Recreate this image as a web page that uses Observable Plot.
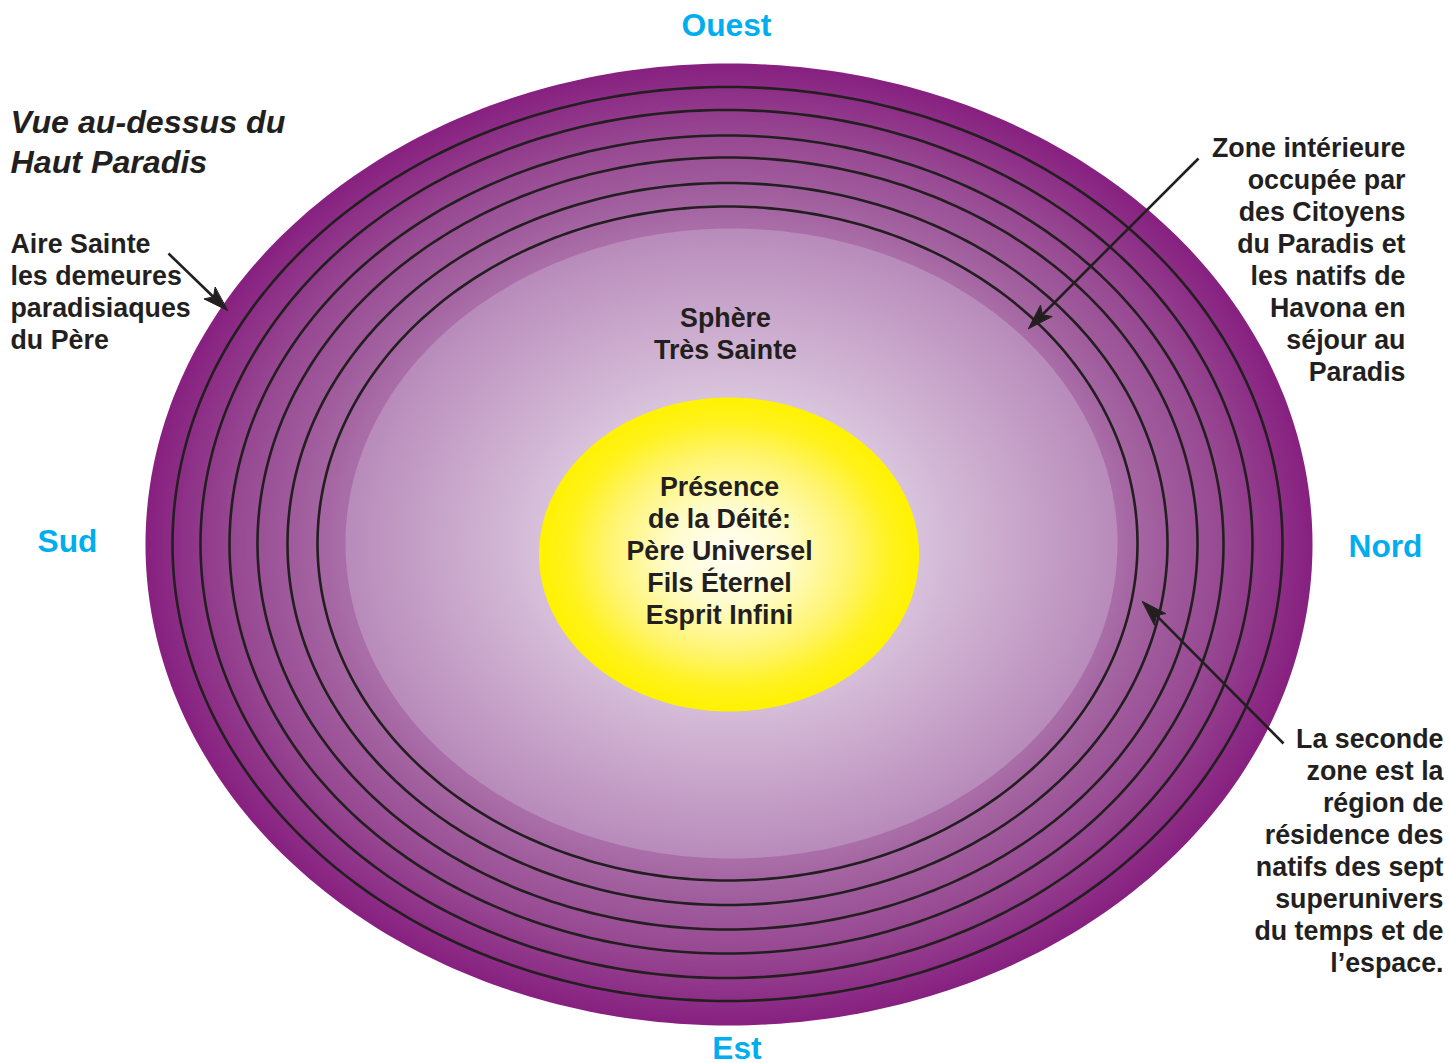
<!DOCTYPE html>
<html>
<head>
<meta charset="utf-8">
<script src="https://cdn.jsdelivr.net/npm/d3@7"></script>
<script src="https://cdn.jsdelivr.net/npm/@observablehq/plot@0.6"></script>
<style>
  html, body { margin: 0; padding: 0; background: #ffffff; overflow: hidden; }
  #chart svg { display: block; }
</style>
</head>
<body>
<div id="chart"></div>
<script>
// ---------- Data (in picture pixels) ----------
// Concentric boundary lines of the Paradise zones (innermost first)
const ringIds = [1, 2, 3, 4, 5, 6];
const ringRx  = [410, 440, 470, 497, 526, 555];
const ringRy  = [337, 361, 386, 409, 434, 457];
const ringCx  = [727, 727, 727, 726, 726, 727];
const ringCy  = [543, 543.5, 543, 544, 543.5, 543.5];

// Filled regions: outer Paradise disc, Sphère Très Sainte, Présence de la Déité
const regionIds = ["paradis", "sphere", "deite"];
const regionCx  = [728.5, 731, 728.5];
const regionCy  = [544, 543, 554];
const regionRx  = [583.5, 386, 190];
const regionRy  = [481, 315, 157];

// Cardinal directions
const directionLabels = ["Ouest", "Sud", "Nord", "Est"];

// Annotation texts
const titleText   = "Vue au-dessus du\nHaut Paradis";
const aireText    = "Aire Sainte\nles demeures\nparadisiaques\ndu Père";
const zoneText    = "Zone intérieure\noccupée par\ndes Citoyens\ndu Paradis et\nles natifs de\nHavona en\nséjour au\nParadis";
const secondeText = "La seconde\nzone est la\nrégion de\nrésidence des\nnatifs des sept\nsuperunivers\ndu temps et de\nl’espace.";
const sphereText  = "Sphère\nTrès Sainte";
const deiteText   = "Présence\nde la Déité:\nPère Universel\nFils Éternel\nEsprit Infini";

// ---------- Layout ----------
const W = 1449, H = 1063;
const ink = "#231f20", cyan = "#00aeef";
const font = "Liberation Sans, Arial, Helvetica, sans-serif";

const directionPos = [
  {x: 726, y: 25}, {x: 67, y: 541.5}, {x: 1385, y: 546}, {x: 736.5, y: 1048}
];
const directions = directionLabels.map((label, i) => ({label, ...directionPos[i]}));

// Arrow start / tip points
const arrows = [
  {id: "aire",    x1: 168,  y1: 253, x2: 227,  y2: 310},
  {id: "zone",    x1: 1198, y1: 158, x2: 1028, y2: 328},
  {id: "seconde", x1: 1283, y1: 743, x2: 1142, y2: 601}
];

// ---------- Geometry helpers ----------
function ellipsePoints(id, cx, cy, rx, ry) {
  return d3.range(0, 360, 1).map(a => {
    const t = a * Math.PI / 180;
    return {id, x: cx + rx * Math.cos(t), y: cy + ry * Math.sin(t)};
  });
}
const regionPts = regionIds.map((id, i) =>
  ellipsePoints(id, regionCx[i], regionCy[i], regionRx[i], regionRy[i]));
const ringPts = ringIds.flatMap((id, i) =>
  ellipsePoints(id, ringCx[i], ringCy[i], ringRx[i], ringRy[i]));

const headLen = 25, headHalf = 8;
const shafts = [], heads = [];
for (const a of arrows) {
  const dx = a.x2 - a.x1, dy = a.y2 - a.y1, L = Math.hypot(dx, dy);
  const ux = dx / L, uy = dy / L, nx = -uy, ny = ux;
  const bx = a.x2 - headLen * ux, by = a.y2 - headLen * uy;
  const nbx = a.x2 - headLen * 0.78 * ux, nby = a.y2 - headLen * 0.78 * uy;
  shafts.push({x1: a.x1, y1: a.y1, x2: nbx, y2: nby});
  heads.push(
    {id: a.id, x: a.x2, y: a.y2},
    {id: a.id, x: bx + headHalf * nx, y: by + headHalf * ny},
    {id: a.id, x: nbx, y: nby},
    {id: a.id, x: bx - headHalf * nx, y: by - headHalf * ny}
  );
}

const labelStyle = {fontFamily: font, fontWeight: "bold", fontSize: 26.8, fill: ink, lineHeight: 32 / 26.8};

const plot = Plot.plot({
  width: W,
  height: H,
  margin: 0,
  style: {background: "#ffffff", fontFamily: font, overflow: "visible"},
  x: {domain: [0, W], range: [0, W], axis: null},
  y: {domain: [0, H], range: [0, H], axis: null},
  marks: [
    // filled regions
    Plot.line(regionPts[0], {x: "x", y: "y", curve: "linear-closed", fill: "url(#gParadis)", stroke: "none"}),
    Plot.line(ringPts, {x: "x", y: "y", z: "id", curve: "linear-closed", stroke: ink, strokeWidth: 2.6, fill: "none"}),
    Plot.line(regionPts[1], {x: "x", y: "y", curve: "linear-closed", fill: "url(#gSphere)", stroke: "none"}),
    Plot.line(regionPts[2], {x: "x", y: "y", curve: "linear-closed", fill: "url(#gDeite)", stroke: "none"}),

    // arrows
    Plot.link(shafts, {x1: "x1", y1: "y1", x2: "x2", y2: "y2", stroke: ink, strokeWidth: 2.6}),
    Plot.line(heads, {x: "x", y: "y", z: "id", curve: "linear-closed", fill: ink, stroke: ink, strokeWidth: 1}),

    // directions
    Plot.text(directions, {x: "x", y: "y", text: "label", fill: cyan, fontFamily: font, fontWeight: "bold", fontSize: 31.7, textAnchor: "middle"}),

    // title
    Plot.text([titleText], {x: () => 10, y: () => 140, text: d => d, textAnchor: "start", fontFamily: font, fontWeight: "bold", fontStyle: "italic", fontSize: 32.2, fill: ink, lineHeight: 39.5 / 32.2}),

    // annotations
    Plot.text([aireText], {x: () => 10, y: () => 290.5, text: d => d, textAnchor: "start", ...labelStyle}),
    Plot.text([zoneText], {x: () => 1405, y: () => 258, text: d => d, textAnchor: "end", ...labelStyle}),
    Plot.text([secondeText], {x: () => 1443, y: () => 849.5, text: d => d, textAnchor: "end", ...labelStyle}),
    Plot.text([sphereText], {x: () => 725, y: () => 332, text: d => d, textAnchor: "middle", ...labelStyle}),
    Plot.text([deiteText], {x: () => 719, y: () => 549, text: d => d, textAnchor: "middle", ...labelStyle})
  ]
});

// gradient definitions
const defs = d3.select(plot).insert("defs", ":first-child");
function radial(id, stops) {
  const g = defs.append("radialGradient").attr("id", id)
    .attr("cx", 0.5).attr("cy", 0.5).attr("r", 0.5);
  for (const [o, c] of stops) g.append("stop").attr("offset", o).attr("stop-color", c);
}
radial("gParadis", [[0, "#c99fc9"], [0.66, "#a96ea8"], [0.72, "#a2619f"], [0.85, "#974892"], [1, "#872080"]]);
radial("gSphere", [[0, "#eee3f1"], [0.45, "#dac5de"], [0.75, "#c8a5ca"], [1, "#b88bba"]]);
radial("gDeite", [[0, "#fffef6"], [0.3, "#fffcd0"], [0.65, "#fff46a"], [0.85, "#fff21e"], [1, "#fff200"]]);

document.getElementById("chart").appendChild(plot);
</script>
</body>
</html>
